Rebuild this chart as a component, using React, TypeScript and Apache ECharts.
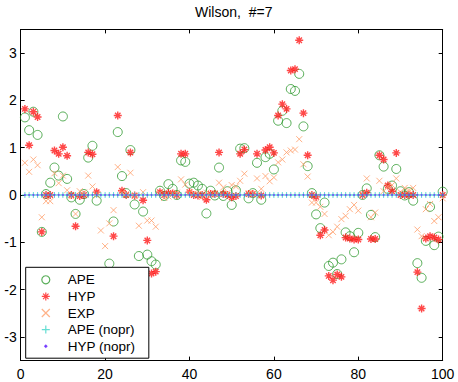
import React, { useEffect, useRef } from "react";
import * as echarts from "echarts";

const TITLE = "Wilson,  #=7";
const SERIES_NAMES = ["APE", "HYP", "EXP", "APE (nopr)", "HYP (nopr)"];
const X_TICKS = [0, 20, 40, 60, 80, 100];
const Y_TICKS = [-3, -2, -1, 0, 1, 2, 3];

const APE = [
  1.64, 1.37, 1.76, 1.27, -0.78, 0.02, 0.26, 0.58, 0.41, 1.66,
  0.34, -0.05, -0.4, -0.1, 0.02, 0.79, 1.04, -0.12, -1.9, -2.1,
  -1.45, -0.56, 1.33, 0.4, 0.04, 0.95, -0.2, -1.29, -0.35, -1.26,
  -1.4, -1.47, 0.09, -0.02, 0.23, 0.13, 0.0, 0.73, 0.7, 0.24,
  0.26, 0.2, 0.13, -0.39, 0.09, -0.01, 0.58, -0.02, 0.08, -0.21,
  0.1, 0.98, 0.99, -0.07, 0.04, 0.68, -0.1, 0.8, 0.87, 0.54,
  1.57, 1.78, 1.52, 2.24, 2.2, 2.56, 1.45, 0.61, 0.04, -0.41,
  -0.7, -0.16, -1.5, -1.43, -1.67, -1.36, -0.79, -0.87, -1.21, -0.8,
  0.0, 0.14, -0.42, -0.89, 0.84, 0.6, 0.13, 0.2, 0.55, 0.08,
  -0.01, 0.06, -0.12, -1.44, -1.75, -0.97, -0.25, -1.06, -0.88, 0.07,
];

const HYP = [
  1.82, 1.05, 1.76, 1.65, -0.78, 0.0, 0.0, 0.94, 0.87, 1.01,
  0.83, 0.0, -0.66, -0.02, 0.0, 0.9, 0.86, 0.06, -2.0, -1.9,
  -1.8, -0.87, 1.68, 0.09, 0.0, 0.9, -0.01, -1.9, -0.11, -0.96,
  -1.66, -1.62, 0.06, 0.0, 0.04, 0.03, 0.0, 0.87, 0.87, 0.06,
  0.0, -0.01, 0.0, -0.1, 0.02, 0.02, 0.9, 0.02, 0.0, -0.05,
  -0.02, 0.87, 0.96, 0.02, 0.02, 0.87, -0.01, 0.95, 1.01, 0.89,
  1.68, 1.92, 1.82, 2.63, 2.66, 3.27, 1.73, 0.84, 0.0, -0.04,
  -0.85, -0.74, -1.71, -1.8, -1.68, -1.73, -0.9, -0.92, -0.94, -0.94,
  0.0, 0.05, -0.93, -0.93, 0.84, 0.75, 0.2, 0.08, 0.89, 0.0,
  0.0, 0.0, 0.0, -1.63, -2.4, -0.92, -0.87, -0.9, -0.94, 0.0,
];

const EXP = [
  0.68, 0.49, 0.75, 0.63, -0.47, -0.13, -0.13, 0.46, 0.25, 0.41,
  0.1, -0.03, -0.4, 0.08, 0.05, 0.41, 0.18, -0.01, -0.75, -1.08,
  -0.6, -0.32, 0.59, 0.05, 0.02, 0.47, -0.02, -0.65, 0.06, -0.54,
  -0.54, -0.67, 0.04, -0.06, -0.03, 0.02, 0.05, 0.33, 0.22, 0.06,
  0.03, 0.02, -0.04, 0.05, 0.0, 0.04, 0.26, 0.16, 0.04, 0.21,
  0.18, 0.3, 0.45, 0.04, 0.03, 0.35, 0.13, 0.4, 0.29, 0.37,
  0.69, 0.75, 0.9, 0.94, 0.96, 1.18, 0.65, 0.39, -0.16, -0.16,
  -0.25, -0.4, -0.85, -0.78, -0.67, -0.51, -0.44, -0.3, -0.21, -0.33,
  0.02, 0.35, -0.47, -0.37, 0.3, 0.08, 0.18, 0.21, 0.35, 0.06,
  0.15, 0.1, 0.15, -0.73, -0.87, -0.3, -0.19, -0.55, -0.47, -0.07,
];

const APE_NOPR = [
  0, 0, 0, 0, 0, 0, 0, 0, 0, 0,
  0, 0, 0, 0, 0, 0, 0, 0, 0, 0,
  0, 0, 0, 0, 0, 0, 0, 0, 0, 0,
  0, 0, 0, 0, 0, 0, 0, 0, 0, 0,
  0, 0, 0, 0, 0, 0, 0, 0, 0, 0,
  0, 0, 0, 0, 0, 0, 0, 0, 0, 0,
  0, 0, 0, 0, 0, 0, 0, 0, 0, 0,
  0, 0, 0, 0, 0, 0, 0, 0, 0, 0,
  0, 0, 0, 0, 0, 0, 0, 0, 0, 0,
  0, 0, 0, 0, 0, 0, 0, 0, 0, 0,
];

const HYP_NOPR = [
  0, 0, 0, 0, 0, 0, 0, 0, 0, 0,
  0, 0, 0, 0, 0, 0, 0, 0, 0, 0,
  0, 0, 0, 0, 0, 0, 0, 0, 0, 0,
  0, 0, 0, 0, 0, 0, 0, 0, 0, 0,
  0, 0, 0, 0, 0, 0, 0, 0, 0, 0,
  0, 0, 0, 0, 0, 0, 0, 0, 0, 0,
  0, 0, 0, 0, 0, 0, 0, 0, 0, 0,
  0, 0, 0, 0, 0, 0, 0, 0, 0, 0,
  0, 0, 0, 0, 0, 0, 0, 0, 0, 0,
  0, 0, 0, 0, 0, 0, 0, 0, 0, 0,
];

const FONT = "'Liberation Sans', Arial, Helvetica, sans-serif";

const SYM_STAR = "path://M5,0L5,10M0,5L10,5M1.6,1.6L8.4,8.4M8.4,1.6L1.6,8.4";
const SYM_X = "path://M0,0L10,10M10,0L0,10";
const SYM_PLUS = "path://M5,0L5,10M0,5L10,5";
const SYM_DOT = "path://M0,0M10,10M3.6,5L5,3.6L6.4,5L5,6.4Z";

const toPairs = (vals: number[]) => vals.map((v, k) => [k + 1, v]);

export default function App() {
  const ref = useRef<HTMLDivElement>(null);
  useEffect(() => {
    if (!ref.current) return;
    const chart = echarts.init(ref.current, null, { renderer: "svg" });
    const axisBase = {
      type: "value" as const,
      axisLine: { show: true, onZero: false, lineStyle: { color: "#000", width: 1 } },
      axisTick: { show: true, inside: true, length: 4, lineStyle: { color: "#000" } },
      splitLine: { show: false },
    };
    const mk = (
      name: string,
      vals: number[],
      symbol: string,
      size: number,
      color: string,
      width: number,
      z: number
    ) => ({
      type: "scatter",
      name,
      data: toPairs(vals),
      symbol,
      symbolSize: size,
      itemStyle: { color: "rgba(0,0,0,0)", borderColor: color, borderWidth: width },
      emphasis: { disabled: true },
      z,
    });
    chart.setOption({
      animation: false,
      backgroundColor: "#fff",
      textStyle: { fontFamily: FONT },
      title: {
        text: TITLE,
        left: 190,
        top: 0,
        padding: 5,
        textStyle: { fontSize: 14, fontWeight: "normal", color: "#000", fontFamily: FONT },
      },
      grid: { left: 20.7, right: 15.3, top: 29.4, bottom: 21.4, containLabel: false },
      xAxis: [
        {
          ...axisBase,
          position: "bottom",
          min: X_TICKS[0],
          max: X_TICKS[X_TICKS.length - 1],
          interval: 20,
          axisLabel: { show: true, fontSize: 14, color: "#000", margin: 6, fontFamily: FONT },
        },
        {
          ...axisBase,
          position: "top",
          min: X_TICKS[0],
          max: X_TICKS[X_TICKS.length - 1],
          interval: 20,
          axisLabel: { show: false },
        },
      ],
      yAxis: [
        {
          ...axisBase,
          position: "left",
          min: -3.5,
          max: 3.5,
          axisTick: { ...axisBase.axisTick, customValues: Y_TICKS },
          axisLabel: {
            show: true,
            fontSize: 14,
            color: "#000",
            margin: 4,
            fontFamily: FONT,
            customValues: Y_TICKS,
          },
        },
        {
          ...axisBase,
          position: "right",
          min: -3.5,
          max: 3.5,
          axisTick: { ...axisBase.axisTick, customValues: Y_TICKS },
          axisLabel: { show: false, customValues: Y_TICKS },
        },
      ],
      legend: {
        orient: "vertical",
        left: 25.7,
        top: 267.3,
        padding: [5.5, 13.5, 5, 15.5],
        itemWidth: 34,
        itemHeight: 8,
        itemGap: 2.6,
        backgroundColor: "#fff",
        borderColor: "#000",
        borderWidth: 1,
        borderRadius: 0,
        textStyle: { fontSize: 13.5, color: "#000", fontFamily: FONT },
        itemStyle: { borderWidth: 1.2 },
        data: SERIES_NAMES,
        z: 10,
      },
      series: [
        mk(SERIES_NAMES[0], APE, "circle", 9, "#2f9a2f", 1, 2),
        mk(SERIES_NAMES[1], HYP, SYM_STAR, 8, "#ff1a1a", 1.4, 3),
        mk(SERIES_NAMES[2], EXP, SYM_X, 6, "#ff9f6a", 1, 4),
        mk(SERIES_NAMES[3], APE_NOPR, SYM_PLUS, 6, "#3fd6c8", 1, 5),
        {
          type: "scatter",
          name: SERIES_NAMES[4],
          data: toPairs(HYP_NOPR),
          symbol: SYM_DOT,
          symbolSize: 8,
          itemStyle: { color: "#6a2cff", borderColor: "#6a2cff", borderWidth: 0.5 },
          emphasis: { disabled: true },
          z: 6,
        },
      ],
    });
    return () => chart.dispose();
  }, []);
  return <div ref={ref} style={{ width: 458, height: 382, position: "absolute", left: 0, top: 0 }} />;
}
